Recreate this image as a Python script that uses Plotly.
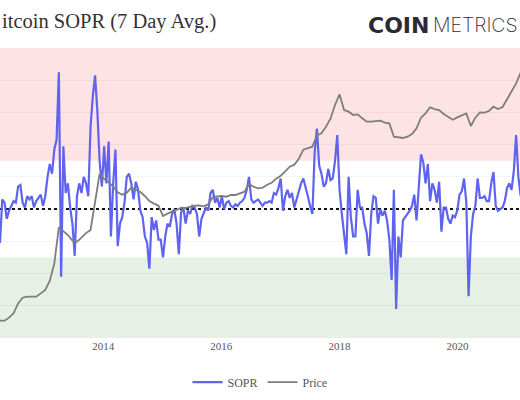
import plotly.graph_objects as go
import pandas as pd

# SOPR (7 day avg.), sampled every 14 days from 2012-04-02
sopr_start = "2012-04-02"
sopr = [
    0.979, 1.006, 1.004, 0.994, 0.999, 1.002, 1.005, 1.004, 1.014, 1.015,
    1.004, 1.001, 1.008, 1.006, 1.008, 1.001, 1.005, 1.007, 1.009, 1.002,
    1.008, 1.020, 1.028, 1.022, 1.037, 1.043, 1.085, 0.958, 1.039, 1.010,
    1.016, 1.001, 0.991, 0.971, 1.008, 1.016, 1.010, 1.020, 1.016, 1.008,
    1.051, 1.070, 1.083, 1.061, 1.030, 1.014, 1.039, 1.016, 1.042, 0.983,
    1.016, 1.037, 0.977, 0.991, 0.995, 1.004, 1.020, 1.022, 1.016, 1.006,
    1.017, 1.012, 0.999, 0.995, 0.983, 0.979, 0.963, 0.995, 0.987, 0.993,
    0.981, 0.981, 0.970, 0.983, 0.991, 0.989, 0.997, 1.000, 0.991, 0.972,
    0.998, 1.001, 0.991, 0.999, 0.997, 1.002, 1.001, 0.997, 0.983, 0.994,
    0.998, 1.001, 0.999, 1.010, 1.012, 1.004, 1.007, 1.001, 1.008, 1.000,
    1.004, 1.005, 1.002, 1.001, 1.003, 1.002, 1.004, 1.005, 1.007, 1.012,
    1.020, 1.006, 1.004, 1.005, 1.006, 1.004, 1.002, 1.004, 1.004, 1.005,
    1.004, 1.010, 1.009, 1.013, 1.019, 0.999, 1.008, 1.012, 1.007, 1.010,
    1.001, 1.006, 1.011, 1.016, 1.019, 1.014, 1.008, 1.002, 0.997, 1.035,
    1.050, 1.027, 1.022, 1.014, 1.016, 1.025, 1.018, 1.019, 1.030, 1.046,
    1.012, 0.997, 0.983, 0.972, 1.020, 0.995, 0.983, 0.983, 1.012, 1.001,
    1.001, 0.991, 0.985, 0.971, 0.997, 1.008, 1.007, 0.991, 1.000, 0.996,
    0.999, 0.993, 0.981, 0.956, 1.012, 0.938, 0.983, 0.970, 0.993, 0.995,
    0.997, 0.999, 1.002, 1.009, 0.993, 1.016, 1.034, 1.029, 1.016, 1.028,
    1.005, 1.016, 1.012, 1.004, 1.017, 0.986, 1.001, 1.001, 0.994, 0.991,
    0.996, 0.995, 0.999, 1.009, 1.011, 1.019, 1.004, 0.946, 0.983, 0.997,
    1.002, 1.019, 1.007, 1.007, 1.008, 1.005, 1.005, 1.016, 1.023, 1.002,
    0.999, 1.000, 1.001, 1.005, 1.013, 1.016, 1.012, 1.024, 1.046, 1.020,
    1.008,
]

# BTC price (USD), sampled every 28 days from 2012-04-02
price_start = "2012-04-02"
price = [
    4.09, 4.09, 4.58, 5.38, 7.79, 9.62, 9.98, 9.98, 9.98, 11.3,
    12.8, 18.1, 34.4, 131, 112, 98.6, 79.9, 76.9, 89.3, 106,
    119, 332, 950, 789, 697, 593, 481, 441, 475, 572,
    524, 487, 420, 348, 316, 293, 200, 220, 237, 250,
    272, 269, 282, 293, 297, 286, 308, 399, 414, 420,
    409, 436, 436, 463, 493, 655, 593, 558, 572, 639,
    688, 799, 893, 1049, 1247, 1343, 1679, 2346, 2495, 2622,
    3994, 4301, 5510, 7418, 12320, 18310, 10230, 9618, 8500, 8714,
    7508, 6633, 6633, 6717, 6885, 6392, 6235, 3802, 3662, 3617,
    3802, 4197, 5180, 7696, 9041, 11300, 10620, 10230, 8820, 7987,
    7145, 7793, 8500, 9041, 5648, 7696, 9382, 9266, 9858, 11580,
    10620, 11440, 15210, 20220, 27550, 40940,
]

tick_vals = ["2014-01-01", "2016-01-01", "2018-01-01", "2020-01-01"]
tick_text = ["2014", "2016", "2018", "2020"]

sopr_dates = pd.date_range(sopr_start, periods=len(sopr), freq="14D")
price_dates = pd.date_range(price_start, periods=len(price), freq="28D")

SERIF = "Liberation Serif, Times New Roman, serif"

fig = go.Figure()
fig.add_trace(go.Scatter(
    x=sopr_dates, y=sopr, name="SOPR", mode="lines",
    line=dict(color="#5f63ef", width=2.2),
))
fig.add_trace(go.Scatter(
    x=price_dates, y=price, name="Price", mode="lines", yaxis="y2",
    line=dict(color="#7d7d7d", width=1.8),
))

# zones
fig.add_shape(type="rect", xref="paper", yref="y", x0=0, x1=1, y0=1.03, y1=1.10,
              fillcolor="#fde3e3", line_width=0, layer="below")
fig.add_shape(type="rect", xref="paper", yref="y", x0=0, x1=1, y0=0.92, y1=0.97,
              fillcolor="#e7f0e4", line_width=0, layer="below")
fig.add_shape(type="line", xref="paper", yref="y", x0=0, x1=1, y0=1.0, y1=1.0,
              line=dict(color="#111111", width=2, dash="dot"), layer="between")

fig.add_annotation(text="itcoin SOPR (7 Day Avg.)", xref="paper", yref="paper",
                   x=0.0, y=1.093, xanchor="left", yanchor="middle", showarrow=False,
                   font=dict(family=SERIF, size=20.5, color="#333333"))
fig.add_annotation(text="COIN", xref="paper", yref="paper",
                   x=0.704, y=1.078, xanchor="left", yanchor="middle", showarrow=False,
                   font=dict(family="DejaVu Sans", size=22, color="#2a2a35", weight=700))
fig.add_annotation(text="METRICS", xref="paper", yref="paper",
                   x=0.829, y=1.078, xanchor="left", yanchor="middle", showarrow=False,
                   font=dict(family="Inter", size=19.5, color="#2a2a35", weight=200))

fig.update_layout(
    width=520, height=400,
    margin=dict(l=0, r=0, t=48, b=62),
    paper_bgcolor="white", plot_bgcolor="white",
    showlegend=True,
    legend=dict(orientation="h", x=0.5, xanchor="center", y=-0.152, yanchor="middle",
                font=dict(family=SERIF, size=12, color="#555555")),
    xaxis=dict(range=["2012-04-02", "2021-01-21"], tickvals=tick_vals, ticktext=tick_text,
               showgrid=False, zeroline=False, showline=False, ticks="",
               tickfont=dict(family=SERIF, size=11, color="#555555")),
    yaxis=dict(range=[0.92, 1.10], dtick=0.02, tick0=0.92, showgrid=True,
               gridcolor="rgba(0,0,0,0.045)", gridwidth=1, zeroline=False,
               showticklabels=False, ticks=""),
    yaxis2=dict(type="log", range=[0.333, 5.010], overlaying="y", side="right",
                showgrid=False, zeroline=False, showticklabels=False, ticks=""),
)

fig.write_html("out.html", config={"displayModeBar": False},
               post_script="document.body.style.margin='0';document.body.style.overflow='hidden';")
